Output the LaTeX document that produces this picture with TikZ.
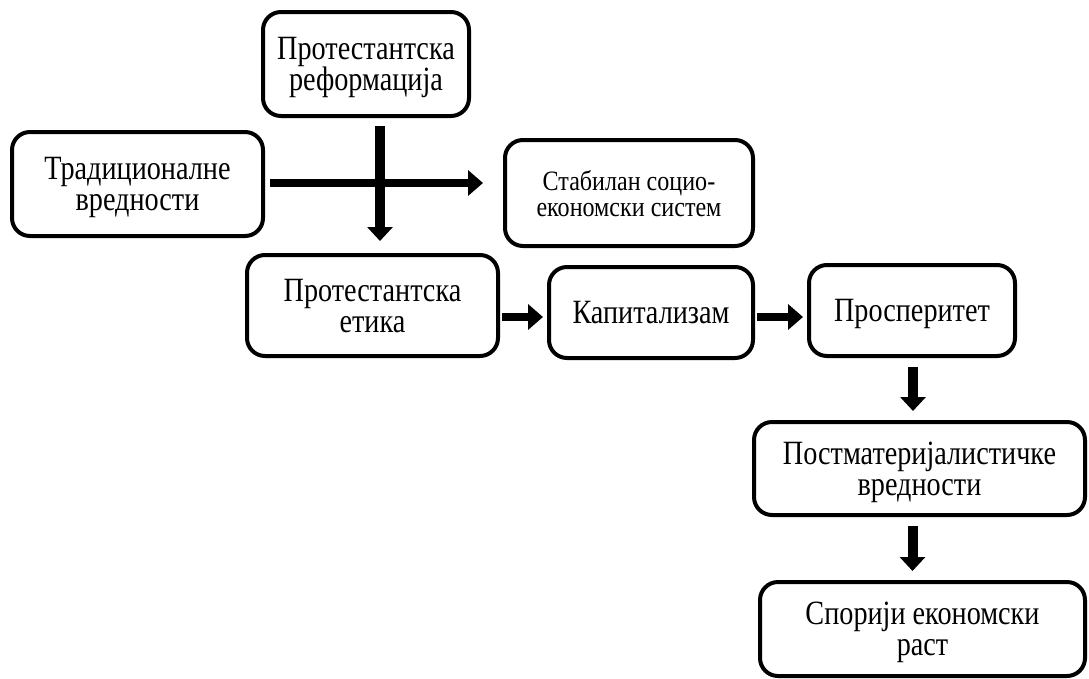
\documentclass[tikz,border=0pt]{standalone}
\usepackage{fontspec}
\setmainfont{Liberation Serif}
\newfontfamily\boxfont[FakeStretch=0.83]{Liberation Serif}
\newfontfamily\smallboxfont[FakeStretch=0.86]{Liberation Serif}
\usetikzlibrary{arrows.meta}

\tikzset{
  box/.style={draw,line width=4pt,rounded corners=18pt,align=center,
    font=\boxfont\fontsize{34}{31}\selectfont,inner sep=0pt,text depth=0pt},
  onebox/.style={box,text height=22.5pt},
  bigarrow/.style={line width=10pt,-{Triangle[width=25pt,length=14pt]}},
  smallarrow/.style={line width=8pt,-{Triangle[width=25pt,length=15pt]}}
}

\begin{document}
\begin{tikzpicture}[x=1pt,y=-1pt]
\useasboundingbox (0,0) rectangle (1089,678);
% boxes
\node[box,minimum width=206pt,minimum height=104pt] (reform) at (366,64) {Протестантска\\реформација};
\node[box,minimum width=251pt,minimum height=104pt] (trad) at (137.5,184) {Традиционалне\\вредности};
\node[box,minimum width=248pt,minimum height=106pt,font=\smallboxfont\fontsize{28}{26}\selectfont] (stab) at (629,193) {Стабилан социо-\\економски систем};
\node[box,minimum width=251pt,minimum height=101pt] (etika) at (372.5,305.5) {Протестантска\\етика};
\node[onebox,minimum width=204pt,minimum height=91pt] (kap) at (651,312.5) {Капитализам};
\node[onebox,minimum width=206pt,minimum height=91pt] (prosp) at (912,310.5) {Просперитет};
\node[box,minimum width=331pt,minimum height=93pt] (post) at (919.5,468.5) {Постматеријалистичке\\вредности};
\node[box,minimum width=325pt,minimum height=94pt] (spor) at (922.5,629) {Спорији економски\\раст};
% arrows
\begin{scope}
  \draw[smallarrow,shorten <=5pt,shorten >=20pt] ([yshift=1pt]trad.east) -- ([yshift=1pt]trad.east -| stab.west);
  \draw[bigarrow,shorten <=8pt,shorten >=12pt] ([xshift=14pt]reform.south) -- ([xshift=14pt]reform.south |- etika.north);
\end{scope}
\begin{scope}[smallarrow,shorten <=2pt,shorten >=4pt]
  \draw ([yshift=-4.5pt]kap.west -| etika.east) -- ([yshift=-4.5pt]kap.west);
  \draw ([yshift=-4.5pt]kap.east) -- ([yshift=-4.5pt]kap.east -| prosp.west);
\end{scope}
\begin{scope}[bigarrow,shorten <=9pt,shorten >=9pt]
  \draw ([xshift=1pt]prosp.south) -- ([xshift=1pt]prosp.south |- post.north);
  \draw ([xshift=-7pt]post.south) -- ([xshift=-7pt]post.south |- spor.north);
\end{scope}
\end{tikzpicture}
\end{document}
